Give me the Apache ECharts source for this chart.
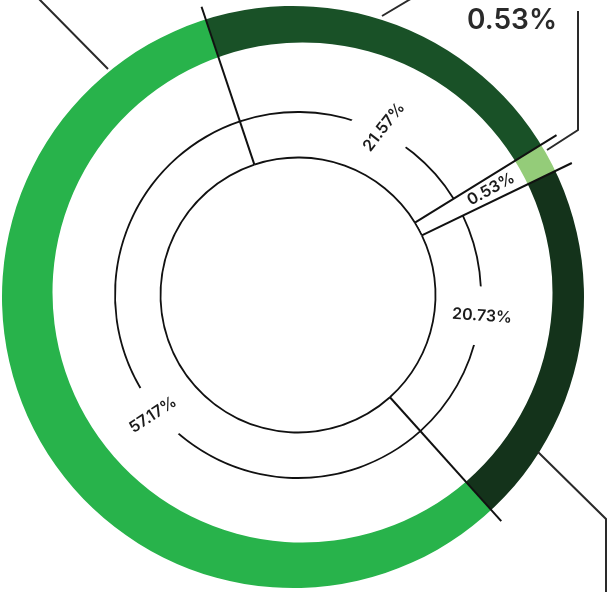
<!DOCTYPE html>
<html>
<head>
<meta charset="utf-8">
<script src="https://cdn.jsdelivr.net/npm/echarts@6/dist/echarts.min.js"></script>
<style>
  html, body { margin: 0; padding: 0; background: #fff; }
  #chart { width: 608px; height: 592px; }
</style>
</head>
<body>
<div id="chart"></div>
<script>
// shares in %, clockwise starting at the upper-left divider
const shares = [21.57, 0.53, 20.73, 57.17];
const ringColors = ['#195127', '#94cc79', '#14331b', '#28b34b'];

const START = 108.5;     // angle of first divider
const MIN_ANGLE = 6;     // the tiny slice is drawn wider, like the original
const C0 = [298, 295];   // centre of inner circles and dividers
const C_OUT = [293, 297];
const C_IN = [302.5, 292.5];

const FONT = 'Inter';

// the designer placed the inner labels a bit off the slice middles
const labelSpots = [
  { x: 384, y: 127, rotate: 52 },
  null,
  { x: 482, y: 316, rotate: -4 },
  { x: 153, y: 415, rotate: 33 }
];

// leader lines of the outer labels (most of them are cut off by the frame)
const leaderLayout = [
  { x: 440, y: -40, labelLinePoints: [[382, 16], [409, 0], [430, -13]] },
  { x: 557, y: 21, align: 'right', verticalAlign: 'middle', labelLinePoints: [[547, 150], [578, 130], [578, 11]] },
  { x: 660, y: 660, labelLinePoints: [[538, 452], [606, 519], [606, 620]] },
  { x: -80, y: -80, labelLinePoints: [[108, 69], [40, 0], [20, -20]] }
];

const pieData = shares.map((v, i) => ({ value: v, name: 's' + i }));
const pct = p => p.value.toFixed(2) + '%';

// divider angles, same arithmetic as the pie layout with minAngle
function dividers () {
  const total = shares.reduce((a, b) => a + b, 0);
  let rest = 360;
  let big = 0;
  const small = shares.map(v => {
    if (v / total * 360 < MIN_ANGLE) { rest -= MIN_ANGLE; return true; }
    big += v;
    return false;
  });
  const out = [];
  let cur = START;
  shares.forEach((v, i) => {
    out.push(cur);
    cur -= small[i] ? MIN_ANGLE : v * rest / big;
  });
  return out;
}

const base = {
  type: 'pie',
  silent: true,
  startAngle: START,
  minAngle: MIN_ANGLE,
  clockwise: true,
  avoidLabelOverlap: false,
  label: { show: false },
  labelLine: { show: false },
  emphasis: { disabled: true },
  itemStyle: { borderWidth: 0 }
};

const chart = echarts.init(document.getElementById('chart'));
chart.setOption({
  animation: false,
  series: [
    {
      ...base, z: 1, center: C0, radius: [0, 300],
      data: pieData.map((d, i) => ({ ...d, itemStyle: { color: ringColors[i] } }))
    },
    // cut the outer edge
    {
      ...base, z: 2, center: C_OUT, radius: [291, 900],
      data: [{ value: 1, itemStyle: { color: '#fff' } }]
    },
    // hole
    {
      ...base, z: 3, center: C_IN, radius: [0, 250],
      data: [{ value: 1, itemStyle: { color: '#fff' } }]
    },
    // inner circle
    {
      ...base, z: 4, center: C0, radius: [136.6, 138.4],
      itemStyle: { color: '#111', borderWidth: 0 }, data: pieData
    },
    // middle circle
    {
      ...base, z: 4, center: C0, radius: [182.1, 183.9],
      itemStyle: { color: '#111', borderWidth: 0 }, data: pieData
    },
    // pulled out band of the small slice
    {
      ...base, z: 5, center: C0, radius: [138.6, 250],
      itemStyle: { borderWidth: 0, color: p => p.dataIndex === 1 ? '#fff' : 'rgba(0,0,0,0)' },
      data: pieData
    },
    // dividers
    {
      type: 'custom',
      coordinateSystem: 'none',
      silent: true,
      z: 6,
      data: dividers().map(a => [a]),
      renderItem: (params, api) => {
        const a = api.value(0) * Math.PI / 180;
        const r0 = 137.5;
        const r1 = 304;
        return {
          type: 'line',
          shape: {
            x1: C0[0] + r0 * Math.cos(a), y1: C0[1] - r0 * Math.sin(a),
            x2: C0[0] + r1 * Math.cos(a), y2: C0[1] - r1 * Math.sin(a)
          },
          style: { stroke: '#111', lineWidth: 2 }
        };
      }
    },
    // percentage labels on the middle circle
    {
      ...base, z: 7, center: C0, radius: [170, 206],
      itemStyle: { color: 'rgba(0,0,0,0)', borderWidth: 0 },
      label: {
        show: true, position: 'inside', rotate: 'radial', formatter: pct,
        fontFamily: FONT, fontSize: 16, fontWeight: 600, color: '#1b1b1b',
        backgroundColor: '#fff', padding: [21, 4], lineHeight: 17
      },
      labelLayout: p => labelSpots[p.dataIndex]
        ? { ...labelSpots[p.dataIndex], align: 'center', verticalAlign: 'middle' }
        : {},
      data: pieData.map((d, i) => i === 1 ? { ...d, label: { show: false } } : d)
    },
    {
      ...base, z: 7, center: C0, radius: [190, 244],
      itemStyle: { color: 'rgba(0,0,0,0)', borderWidth: 0 },
      label: {
        show: true, position: 'inside', rotate: 'radial', formatter: pct,
        fontFamily: FONT, fontSize: 16, fontWeight: 600, color: '#1b1b1b'
      },
      data: pieData.map((d, i) => i === 1 ? d : { ...d, label: { show: false } })
    },
    // outer labels with leader lines
    {
      ...base, z: 8, center: C_OUT, radius: [0, 291],
      itemStyle: { color: 'rgba(0,0,0,0)', borderWidth: 0 },
      label: {
        show: true, position: 'outside', formatter: pct, overflow: 'none',
        fontFamily: FONT, fontSize: 28, fontWeight: 600, color: '#2a2a2a'
      },
      labelLine: { show: true, lineStyle: { color: '#2a2a2a', width: 2 } },
      labelLayout: p => leaderLayout[p.dataIndex],
      data: pieData
    }
  ]
});
</script>
</body>
</html>
